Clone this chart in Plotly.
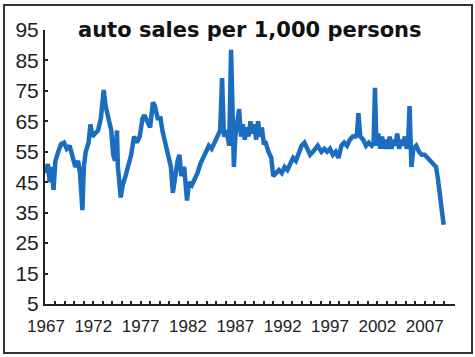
import plotly.graph_objects as go

years = [
    1967.0, 1967.2, 1967.4, 1967.6, 1967.8, 1968.0, 1968.3, 1968.6, 1968.9, 1969.2,
    1969.5, 1969.8, 1970.1, 1970.4, 1970.6, 1970.85, 1971.0, 1971.2, 1971.5, 1971.7,
    1971.9, 1972.2, 1972.5, 1972.8, 1973.1, 1973.3, 1973.6, 1973.9, 1974.1, 1974.3,
    1974.5, 1974.6, 1974.9, 1975.1, 1975.4, 1975.7, 1976.0, 1976.3, 1976.6, 1976.9,
    1977.2, 1977.4, 1977.7, 1978.0, 1978.3, 1978.5, 1978.8, 1979.1, 1979.3, 1979.6,
    1979.9, 1980.2, 1980.4, 1980.6, 1980.9, 1981.1, 1981.3, 1981.6, 1981.9, 1982.1,
    1982.4, 1982.7, 1983.0, 1983.3, 1983.6, 1983.9, 1984.2, 1984.5, 1984.8, 1985.1,
    1985.4, 1985.6, 1985.8, 1986.1, 1986.35, 1986.55, 1986.7, 1986.85, 1987.0, 1987.2,
    1987.4, 1987.6, 1987.8, 1988.0, 1988.2, 1988.4, 1988.6, 1988.8, 1989.0, 1989.2,
    1989.4, 1989.6, 1989.8, 1990.0, 1990.2, 1990.5, 1990.8, 1991.0, 1991.3, 1991.6,
    1991.9, 1992.2, 1992.5, 1992.8, 1993.1, 1993.4, 1993.7, 1994.0, 1994.3, 1994.6,
    1994.9, 1995.2, 1995.5, 1995.7, 1996.1, 1996.4, 1996.7, 1997.0, 1997.3, 1997.6,
    1997.9, 1998.2, 1998.5, 1998.8, 1999.1, 1999.4, 1999.7, 1999.85, 2000.0, 2000.2,
    2000.5, 2000.8, 2001.1, 2001.4, 2001.6, 2001.75, 2001.9, 2002.1, 2002.3, 2002.5,
    2002.7, 2002.9, 2003.1, 2003.3, 2003.5, 2003.7, 2003.9, 2004.1, 2004.3, 2004.5,
    2004.7, 2004.9, 2005.1, 2005.25, 2005.4, 2005.6, 2005.8, 2006.1, 2006.4, 2006.7,
    2007.0, 2007.3, 2007.6, 2007.9, 2008.2, 2008.4, 2008.6, 2008.8, 2009.0,
]

sales = [
    48, 51, 45, 50, 42.5, 52, 55, 57.5, 58, 56,
    57, 53, 50, 52, 48, 35.8, 50, 55, 58, 64,
    60, 61, 62, 66, 75.3, 70, 66, 62, 54, 52,
    62, 50, 40, 44, 47, 51, 54, 60, 58, 60,
    66, 67, 65, 63, 71.3, 70, 66, 66, 62, 58,
    55, 50, 41.5, 46, 52, 54, 47, 50, 39, 45,
    44, 46, 48, 51, 53, 55, 57, 56, 58, 60,
    62, 79.2, 60, 62, 57, 88.5, 60, 50, 60, 65,
    69, 60, 64, 59, 63, 60, 65, 61, 64, 59,
    65, 60, 63, 58, 58, 55, 53, 47, 48, 49,
    48, 50, 49, 51, 53, 52, 55, 57, 58, 56,
    54, 55, 56, 57, 55, 56, 55, 56, 54, 55,
    53, 57, 58, 57, 59, 60, 60, 61, 67.7, 60,
    59, 57, 58, 57, 58, 76, 57, 61, 56, 60,
    56, 59, 56, 60, 56, 59, 57, 61, 56, 59,
    57, 60, 56, 58, 70, 50, 56, 57, 55, 54,
    54, 53, 52, 51, 50, 46, 42, 36, 31,
]

tick_years = list(range(1967, 2010))
tick_labels = [str(y) if (y - 1967) % 5 == 0 else "" for y in tick_years]
y_ticks = [5, 15, 25, 35, 45, 55, 65, 75, 85, 95]

fig = go.Figure()
fig.add_trace(go.Scatter(
    x=years, y=sales, mode="lines",
    line=dict(color="#1b6dbf", width=4.5),
    showlegend=False, hoverinfo="skip",
))

fig.update_layout(
    width=475, height=357,
    margin=dict(l=45, r=20, t=30, b=53),
    paper_bgcolor="white", plot_bgcolor="white",
    showlegend=False,
    font=dict(family="Liberation Sans, Arial, sans-serif", color="#222"),
    xaxis=dict(
        range=[1966.9, 2010.2], showgrid=False, zeroline=False,
        showline=True, linecolor="#222", linewidth=2,
        tickmode="array", tickvals=tick_years, ticktext=tick_labels,
        ticks="inside", ticklen=3, tickwidth=1.5, tickcolor="#222",
        ticklabelstandoff=6,
        tickfont=dict(family="Liberation Sans, Arial", size=17, color="#222"),
    ),
    yaxis=dict(
        range=[5, 95], showgrid=False, zeroline=False,
        showline=True, linecolor="#222", linewidth=2,
        tickmode="array", tickvals=y_ticks,
        ticks="inside", ticklen=3, tickwidth=1.5, tickcolor="#222",
        tickfont=dict(family="Liberation Sans, Arial", size=21, color="#222"),
    ),
    annotations=[dict(
        text="<b>auto sales per 1,000 persons</b>",
        xref="paper", yref="paper", x=0.5, y=1.0,
        xanchor="center", yanchor="middle", showarrow=False,
        font=dict(family="DejaVu Sans, Liberation Sans", size=21, color="#111"),
    )],
    shapes=[dict(
        type="rect", xref="paper", yref="paper",
        x0=-0.1, x1=1.0415, y0=-0.1788, y1=1.0912,
        line=dict(color="#333", width=2), fillcolor="rgba(0,0,0,0)",
    )],
)

fig.write_html(
    "out.html",
    config={"displayModeBar": False},
    post_script="document.body.style.margin='0';document.body.style.padding='0';",
)
